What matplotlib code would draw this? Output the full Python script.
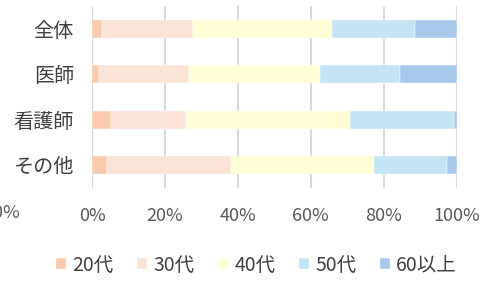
import matplotlib
matplotlib.use("Agg")
import matplotlib.pyplot as plt
import numpy as np

plt.rcParams['font.family'] = ['Noto Sans CJK JP', 'DejaVu Sans']

categories = ["全体", "医師", "看護師", "その他"]
series_names = ["20代", "30代", "40代", "50代", "60以上"]
age20 = [2.7, 1.9, 5.2, 4.1]
age30 = [25.0, 24.7, 20.6, 33.9]
age40 = [38.1, 36.0, 44.9, 39.5]
age50 = [22.8, 21.9, 28.6, 19.8]
age60 = [11.4, 15.5, 0.7, 2.7]
series = [age20, age30, age40, age50, age60]
colors = ["#F8CBAD", "#FBE3D6", "#FFFED5", "#C4E5F5", "#A6C9EB"]
xticks = [0, 20, 40, 60, 80, 100]
xtick_labels = ["0%", "20%", "40%", "60%", "80%", "100%"]

fig = plt.figure(figsize=(4.9, 2.82), dpi=100)
ax = fig.add_axes([92/490, 1-188/282, (456.5-92)/490, 182/282])

y = np.arange(len(categories))
left = np.zeros(len(categories))
for name, vals, c in zip(series_names, series, colors):
    ax.barh(y, vals, left=left, height=0.4, color=c, label=name, zorder=3,
            edgecolor='white', linewidth=0.3)
    left += np.array(vals)

ax.set_xlim(0, 100)
ax.set_ylim(3.5, -0.5)
ax.set_xticks(xticks)
ax.set_xticklabels(xtick_labels, color="#595959", fontsize=13)
ax.set_yticks(y)
ax.set_yticklabels(categories, color="#404040", fontsize=14.5)
ax.tick_params(axis='both', length=0)
ax.tick_params(axis='x', pad=14)
ax.tick_params(axis='y', pad=13)
ax.grid(axis='x', color="#D9D9D9", linewidth=1.5, zorder=0)
for s in ax.spines.values():
    s.set_visible(False)

fig.text(20/490, 1-213/282, "100%", ha='right', va='center', color="#595959", fontsize=13)

leg = fig.legend(loc='center', bbox_to_anchor=(0.523, 1-265/282), ncol=5, frameon=False,
                 fontsize=14, handlelength=0.55, handleheight=0.55, handletextpad=0.3,
                 columnspacing=1.2, labelcolor="#404040")

fig.savefig("out.png", dpi=100)
